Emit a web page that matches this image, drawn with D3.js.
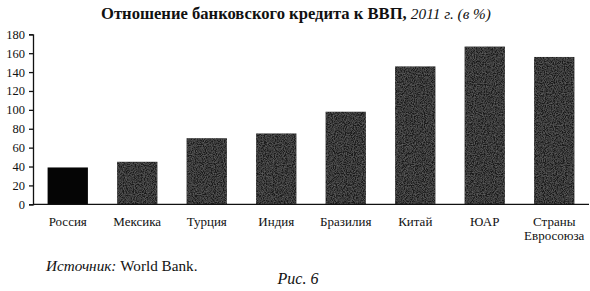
<!DOCTYPE html>
<html>
<head>
<meta charset="utf-8">
<script src="https://cdn.jsdelivr.net/npm/d3@7"></script>
<style>
body { margin: 0; background: #fff; }
text { font-family: "Liberation Serif", "DejaVu Serif", serif; fill: #111; }
</style>
</head>
<body>
<svg id="chart"></svg>
<script>
// bank credit to GDP, 2011, %
const countries = ['Россия', 'Мексика', 'Турция', 'Индия', 'Бразилия', 'Китай', 'ЮАР', 'Страны|Евросоюза'];
const credit = [39, 45, 70, 75, 98, 146, 167, 156];
const yTicks = [0, 20, 40, 60, 80, 100, 120, 140, 160, 180];

const svg = d3.select('#chart').attr('width', 590).attr('height', 291);

// grainy print texture for the grey bars
let filt = svg.append('defs').append('filter').attr('id', 'grain')
    .attr('x', 0).attr('y', 0).attr('width', 1).attr('height', 1);
filt.append('feTurbulence').attr('type', 'fractalNoise').attr('baseFrequency', 0.9).attr('numOctaves', 2).attr('result', 'noise');
filt.append('feColorMatrix').attr('in', 'noise').attr('type', 'matrix')
    .attr('values', '0 0 0 0 0.35  0 0 0 0 0.35  0 0 0 0 0.35  0 0 0 0.6 -0.2').attr('result', 'grey');
filt.append('feComposite').attr('in', 'grey').attr('in2', 'SourceGraphic').attr('operator', 'in').attr('result', 'g2');
filt.append('feMerge').call(m => {
    m.append('feMergeNode').attr('in', 'SourceGraphic');
    m.append('feMergeNode').attr('in', 'g2');
});

const x = d3.scaleBand().domain(countries).range([33, 589]).paddingInner(0.42).paddingOuter(0.21);
const y = d3.scaleLinear().domain([0, 180]).range([204.3, 34.3]);

// title
let title = svg.append('text')
    .attr('x', 296).attr('y', 19)
    .attr('text-anchor', 'middle')
    .style('font-size', '16.6px');
title.append('tspan').style('font-weight', 'bold').text('Отношение банковского кредита к ВВП, ');
title.append('tspan').style('font-style', 'italic').style('font-size', '15.3px').text('2011 г. (в %)');

// bars
svg.append('g')
    .selectAll('rect')
    .data(countries)
    .join('rect')
    .attr('x', d => x(d))
    .attr('width', x.bandwidth())
    .attr('y', (d, i) => y(credit[i]))
    .attr('height', (d, i) => y(0) - y(credit[i]))
    .attr('fill', (d, i) => i === 0 ? '#050505' : '#1e1e1e')
    .attr('filter', (d, i) => i === 0 ? null : 'url(#grain)');

// y axis
let yAxis = svg.append('g')
    .attr('transform', 'translate(33,0)')
    .call(d3.axisLeft(y).tickValues(yTicks).tickSize(4).tickPadding(4));
yAxis.selectAll('text').style('font-size', '12.5px').style('font-family', '"Liberation Serif", serif').attr('fill', '#111');
yAxis.selectAll('line, path').attr('stroke', '#111').attr('stroke-width', 1.3);

// x axis line
svg.append('line')
    .attr('x1', 33).attr('x2', 589)
    .attr('y1', y(0)).attr('y2', y(0))
    .attr('stroke', '#111').attr('stroke-width', 1.3);

// category labels
svg.append('g')
    .selectAll('text')
    .data(countries)
    .join('text')
    .attr('x', d => x(d) + x.bandwidth() / 2)
    .attr('y', 226)
    .attr('text-anchor', 'middle')
    .style('font-size', '13px')
    .each(function(d) {
        d.split('|').forEach((line, i) => {
            d3.select(this).append('tspan')
                .attr('x', x(d) + x.bandwidth() / 2)
                .attr('dy', i === 0 ? 0 : 14)
                .text(line);
        });
    });

// source
let src = svg.append('text').attr('x', 46).attr('y', 271).style('font-size', '15.2px');
src.append('tspan').style('font-style', 'italic').text('Источник: ');
src.append('tspan').text('World Bank.');

svg.append('text')
    .attr('x', 298).attr('y', 284)
    .attr('text-anchor', 'middle')
    .style('font-style', 'italic')
    .style('font-size', '16px')
    .text('Рис. 6');
</script>
</body>
</html>
